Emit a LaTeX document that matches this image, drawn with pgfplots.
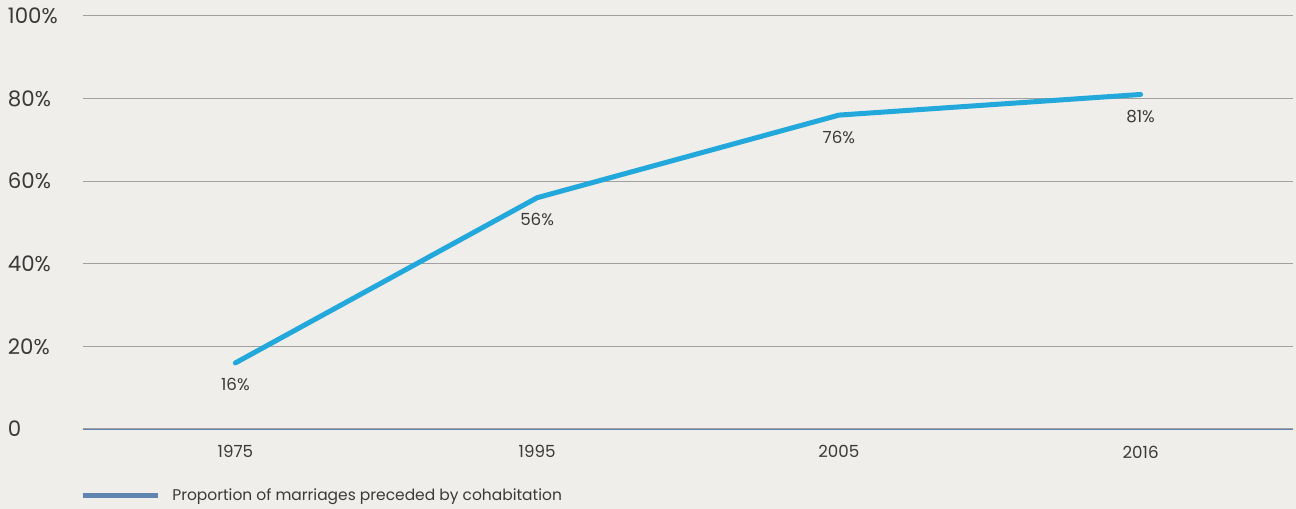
\documentclass[border=0pt]{standalone}
\usepackage{pgfplots}
\pgfplotsset{compat=1.18}
\usetikzlibrary{backgrounds}
\usepackage{fontspec}
\setmainfont{Poppins}
\definecolor{bgc}{HTML}{EFEEEA}
\definecolor{linec}{HTML}{22A8DA}
\definecolor{legc}{HTML}{5F85B0}
\definecolor{gridc}{HTML}{A0A0A0}
\definecolor{txt}{HTML}{3A3A3A}
\begin{document}
\begin{tikzpicture}
\begin{axis}[name=ax, scale only axis, width=907.5pt, height=309.75pt,
  xmin=-0.505, xmax=3.505, ymin=0, ymax=100,
  axis line style={draw=none},
  major tick length=0pt,
  xtick={0,1,2,3}, xticklabels={1975,1995,2005,2016},
  ytick={0,20,40,60,80,100}, yticklabels={0,20\%,40\%,60\%,80\%,100\%},
  ymajorgrids, grid style={gridc, line width=0.75pt},
  xticklabel style={font=\fontsize{12.5}{15}\selectfont, text=txt, yshift=-9pt},
  yticklabel style={font=\fontsize{16}{18}\selectfont, text=txt, anchor=west, inner sep=0pt, xshift=-56.5pt},
  legend style={at={(0,-0.162)}, anchor=west, draw=none, fill=none, inner sep=0pt,
    font=\fontsize{11.6}{14}\selectfont, text=txt, legend cell align=left,
    /tikz/every odd column/.append style={column sep=7pt},
    xshift=-2.2pt},
  legend image code/.code={\draw[#1] (0pt,0pt) -- (56.25pt,0pt);},
  clip=false,
]
\addplot[forget plot, linec, line width=3.75pt, line cap=round, line join=round,
  point meta=explicit symbolic, nodes near coords,
  every node near coord/.style={anchor=center, yshift=-16.5pt, font=\fontsize{12.5}{15}\selectfont, text=txt}]
  coordinates {(0,16) [16\%] (1,56) [56\%] (2,76) [76\%] (3,81) [81\%]};
\addlegendimage{legc, line width=3.75pt}
\addlegendentry{Proportion of marriages preceded by cohabitation}
\draw[legc, line width=0.7pt] (axis cs:-0.505,0) -- (axis cs:3.505,0);
\end{axis}
\begin{scope}[on background layer]
\fill[bgc] ([shift={(-62.25pt,-60pt)}]ax.south west) rectangle ([shift={(2.25pt,12pt)}]ax.north east);
\end{scope}
\pgfresetboundingbox
\path[use as bounding box] ([shift={(-62.25pt,-60pt)}]ax.south west) rectangle ([shift={(2.25pt,12pt)}]ax.north east);
\end{tikzpicture}
\end{document}
